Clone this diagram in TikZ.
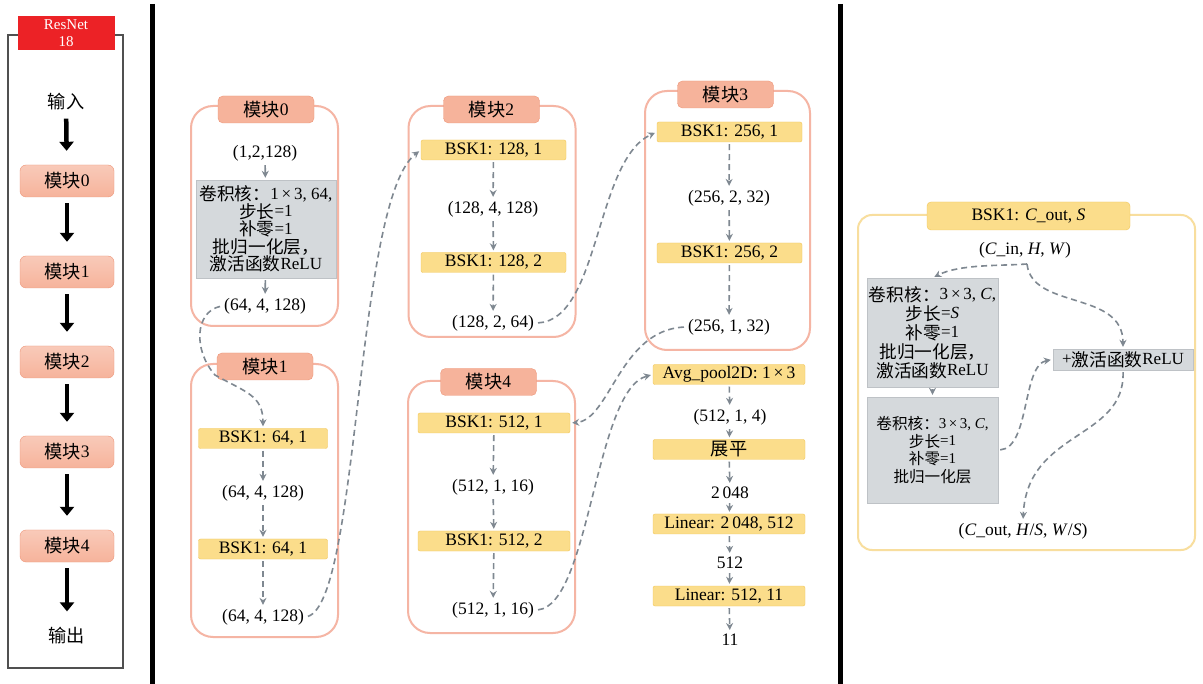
\documentclass[tikz,border=0pt]{standalone}
\usepackage{fontspec}
\setmainfont{Liberation Serif}
\newfontfamily\cjkfont[Scale=1.04]{Noto Sans CJK SC}
\newcommand{\zh}[1]{\raisebox{-1.3pt}{\cjkfont #1}}
\usetikzlibrary{arrows.meta,positioning}

\definecolor{tabfill}{HTML}{F6B39B}
\definecolor{tabline}{HTML}{EE9679}
\definecolor{blkline}{HTML}{F5B5A4}
\definecolor{bskfill}{HTML}{FBDD8B}
\definecolor{bskline}{HTML}{F2C65A}
\definecolor{convfill}{HTML}{D5D9DC}
\definecolor{convline}{HTML}{BEC2C6}
\definecolor{arrgrey}{HTML}{7F8891}
\definecolor{titlered}{HTML}{EC2226}
\definecolor{frameline}{HTML}{505050}
\definecolor{yblkline}{HTML}{F8DE9E}

\begin{document}
\begin{tikzpicture}[x=1pt, y=-1pt,
    txt/.style={font=\fontsize{17.5}{19}\selectfont, inner sep=2pt},
    lbox/.style={draw=tabline, top color=tabfill!70!white, bottom color=tabfill, rounded corners=6pt, minimum width=94pt, minimum height=32pt, font=\fontsize{17.5}{19}\selectfont},
    blk/.style={draw=blkline, line width=2pt, rounded corners=22pt, fill=white},
    yblk/.style={draw=yblkline, line width=2pt, rounded corners=14pt, fill=white},
    tab/.style={draw=tabline, fill=tabfill, rounded corners=5pt, minimum width=96pt, minimum height=27pt, font=\fontsize{17.5}{19}\selectfont},
    bsk/.style={draw=bskline, fill=bskfill, rounded corners=2pt, minimum height=20pt, inner sep=0pt, font=\fontsize{17.5}{19}\selectfont},
    conv/.style={draw=convline, fill=convfill, align=center, inner sep=1pt},
    sarr/.style={draw=arrgrey, line width=1.6pt, -{Stealth[length=7pt,width=7pt]}, shorten <=2pt, shorten >=2pt},
    darr/.style={draw=arrgrey, line width=1.6pt, dash pattern=on 6pt off 4pt, -{Stealth[length=7pt,width=7pt]}, shorten <=2pt, shorten >=2pt},
    big/.style={line width=4.5pt, -{Triangle[length=9pt,width=14pt]}, shorten <=6pt, shorten >=14pt}
]
\fill[white] (0,0) rectangle (1203,684);
\useasboundingbox (0,0) rectangle (1203,684);

% overview column
\draw[frameline, line width=1.6pt] (18,35) -- (8,35) -- (8,668) -- (123,668) -- (123,35) -- (114,35);
\node[fill=titlered, minimum width=97pt, minimum height=34pt, text=white, align=center, inner sep=0pt, font=\fontsize{15}{17}\selectfont] (rn) at (66,33) {ResNet\\18};
\node[txt] (in) at (66,102) {\zh{输入}};
\node[lbox] (l0) at (67,181) {\zh{模块}0};
\node[lbox] (l1) at (67,272) {\zh{模块}1};
\node[lbox] (l2) at (67,362) {\zh{模块}2};
\node[lbox] (l3) at (67,452) {\zh{模块}3};
\node[lbox] (l4) at (67,546) {\zh{模块}4};
\node[txt] (out) at (67,636) {\zh{输出}};
\draw[big] (in) -- (l0);
\draw[big] (l0) -- (l1);
\draw[big] (l1) -- (l2);
\draw[big] (l2) -- (l3);
\draw[big] (l3) -- (l4);
\draw[big] (l4) -- (out);

% separators
\draw[line width=5pt] (152,4) -- (152,684);
\draw[line width=5pt] (840,4) -- (840,684);

% containers
\node[blk, minimum width=147pt, minimum height=220pt] (m0) at (264.5,216) {};
\node[blk, minimum width=147pt, minimum height=273pt] (m1) at (264.5,500.5) {};
\node[blk, minimum width=167pt, minimum height=231pt] (m2) at (492,221.5) {};
\node[blk, minimum width=165pt, minimum height=259pt] (m3) at (727.5,220.5) {};
\node[blk, minimum width=167pt, minimum height=252pt] (m4) at (491.5,507) {};
\node[yblk, minimum width=337pt, minimum height=335pt] (mb) at (1026.5,382.5) {};

\node[tab] (t0) at (266,109.5) {\zh{模块}0};
\node[tab] (t1) at (265,366.5) {\zh{模块}1};
\node[tab] (t2) at (491.5,109.5) {\zh{模块}2};
\node[tab] (t3) at (725.5,94.5) {\zh{模块}3};
\node[tab] (t4) at (488.5,382) {\zh{模块}4};

% module 0
\node[txt] (i0) at (265,153) {(1,2,128)};
\node[conv, minimum width=140pt, minimum height=98pt, font=\fontsize{17}{17.5}\selectfont] (c0) at (266,229)
  {\zh{卷积核：}1\,×\,3, 64,\\\zh{步长}=1\\\zh{补零}=1\\\zh{批归一化层，}\\\zh{激活函数}ReLU};
\node[txt] (o0) at (265,306) {(64, 4, 128)};
\draw[sarr] (i0) -- (c0);
\draw[sarr] (c0) -- (o0);

% module 1
\node[bsk, minimum width=129pt] (b1a) at (263,438.5) {BSK1: 64, 1};
\node[txt] (o1a) at (263,493) {(64, 4, 128)};
\node[bsk, minimum width=129pt] (b1b) at (263,549) {BSK1: 64, 1};
\node[txt] (o1b) at (263,617) {(64, 4, 128)};
\draw[darr] (b1a) -- (o1a);
\draw[darr] (o1a) -- (b1b);
\draw[darr] (b1b) -- (o1b);

% module 2
\node[bsk, minimum width=145pt] (b2a) at (493.5,150) {BSK1: 128, 1};
\node[txt] (o2a) at (493,209) {(128, 4, 128)};
\node[bsk, minimum width=145pt] (b2b) at (493.5,262.5) {BSK1: 128, 2};
\node[txt] (o2b) at (493,323) {(128, 2, 64)};
\draw[darr] (b2a) -- (o2a);
\draw[darr] (o2a) -- (b2b);
\draw[darr] (b2b) -- (o2b);

% module 3
\node[bsk, minimum width=145pt] (b3a) at (729.5,132) {BSK1: 256, 1};
\node[txt] (o3a) at (729,198) {(256, 2, 32)};
\node[bsk, minimum width=145pt] (b3b) at (729.5,253) {BSK1: 256, 2};
\node[txt] (o3b) at (729,327) {(256, 1, 32)};
\draw[darr] (b3a) -- (o3a);
\draw[darr] (o3a) -- (b3b);
\draw[darr] (b3b) -- (o3b);

% module 4
\node[bsk, minimum width=152pt] (b4a) at (494,423) {BSK1: 512, 1};
\node[txt] (o4a) at (493,487) {(512, 1, 16)};
\node[bsk, minimum width=152pt] (b4b) at (494,541) {BSK1: 512, 2};
\node[txt] (o4b) at (493,610) {(512, 1, 16)};
\draw[darr] (b4a) -- (o4a);
\draw[darr] (o4a) -- (b4b);
\draw[darr] (b4b) -- (o4b);

% head
\node[bsk, minimum width=152pt] (avg) at (729,374.5) {Avg\_pool2D: 1\,×\,3};
\node[txt] (o5a) at (730,417) {(512, 1, 4)};
\node[bsk, minimum width=152pt] (flat) at (729,449.5) {\zh{展平}};
\node[txt] (o5b) at (730,493) {2\,048};
\node[bsk, minimum width=152pt] (lin1) at (729,524) {Linear: 2\,048, 512};
\node[txt] (o5c) at (730,563) {512};
\node[bsk, minimum width=152pt] (lin2) at (729,596) {Linear: 512, 11};
\node[txt] (o5d) at (730,640) {11};
\draw[darr] (avg) -- (o5a);
\draw[darr] (o5a) -- (flat);
\draw[darr] (flat) -- (o5b);
\draw[darr] (o5b) -- (lin1);
\draw[darr] (lin1) -- (o5c);
\draw[darr] (o5c) -- (lin2);
\draw[darr] (lin2) -- (o5d);

% links between modules
\draw[darr] (o0.west) .. controls (195,312) and (193,350) .. (215,375) .. controls (245,392) and (263,395) .. (b1a.north);
\draw[darr] (o1b.east) .. controls (360,600) and (355,200) .. (b2a.west);
\draw[darr] (o2b.east) .. controls (600,320) and (595,160) .. (b3a.west);
\draw[darr] (o3b.west) .. controls (620,330) and (610,420) .. (b4a.east);
\draw[darr] (o4b.east) .. controls (590,605) and (595,390) .. (avg.west);

% BSK1 block
\node[bsk, minimum width=203pt, minimum height=28pt, rounded corners=4pt] (tb) at (1028.5,216) {BSK1: \textit{C}\_out, \textit{S}};
\node[txt] (cin) at (1025,250) {(\textit{C}\_in, \textit{H}, \textit{W})};
\coordinate (split) at (1027,264);
\node[conv, minimum width=131pt, minimum height=109pt, font=\fontsize{17}{19}\selectfont] (g1) at (932.5,332.5)
  {\zh{卷积核：}3\,×\,3, \textit{C},\\\zh{步长}=\textit{S}\\\zh{补零}=1\\\zh{批归一化层，}\\\zh{激活函数}ReLU};
\node[conv, minimum width=131pt, minimum height=106pt, font=\fontsize{15}{17.5}\selectfont] (g2) at (932.5,450)
  {\zh{卷积核：}3\,×\,3, \textit{C},\\\zh{步长}=1\\\zh{补零}=1\\\zh{批归一化层}};
\node[conv, minimum width=140pt, minimum height=21pt, font=\fontsize{17}{19}\selectfont] (relu) at (1123,359.5) {+\zh{激活函数}ReLU};
\node[txt] (cout) at (1023,531) {(\textit{C}\_out, \textit{H}/\textit{S}, \textit{W}/\textit{S})};
\draw[sarr] (g1) -- (g2);
\draw[darr, shorten <=0pt] (split) .. controls (1000,266) and (960,264) .. (g1.north);
\draw[darr, shorten <=0pt] (split) .. controls (1032,310) and (1123,290) .. (relu.north);
\draw[darr] (g2.east) .. controls (1030,448) and (1022,365) .. (relu.west);
\draw[darr] (relu.south) .. controls (1125,440) and (1027,430) .. (cout.north);
\end{tikzpicture}
\end{document}
